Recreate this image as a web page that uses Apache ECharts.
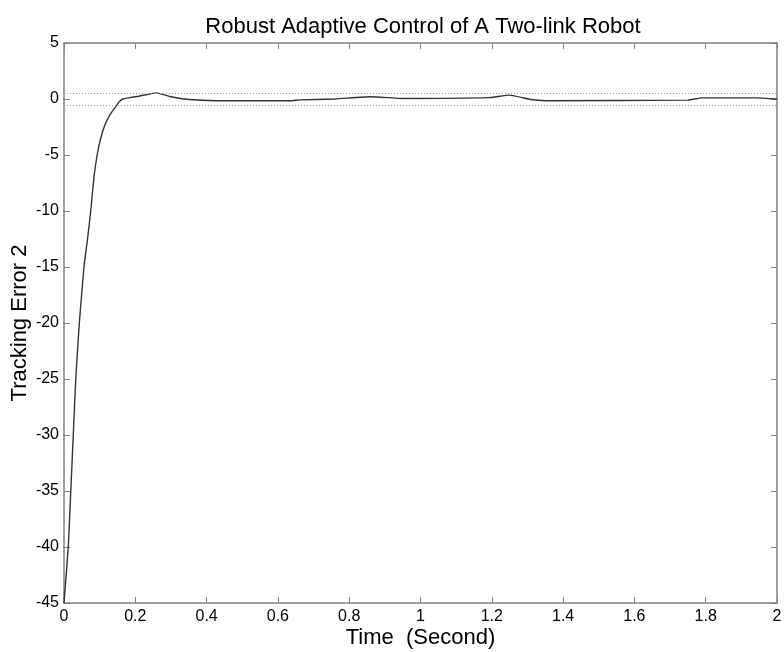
<!DOCTYPE html>
<html>
<head>
<meta charset="utf-8">
<script src="https://cdn.jsdelivr.net/npm/echarts@6/dist/echarts.min.js"></script>
<style>
html,body{margin:0;padding:0;background:#fff;}
#chart{width:784px;height:652px;}
</style>
</head>
<body>
<div id="chart"></div>
<script>
// time (s) and tracking error values
var timeData = [0, 0.012, 0.019, 0.026, 0.033, 0.043, 0.056, 0.066, 0.075, 0.084, 0.093, 0.103, 0.115, 0.129, 0.140, 0.148, 0.155, 0.165, 0.180, 0.210, 0.260, 0.300, 0.350, 0.430, 0.640, 0.660, 0.760, 0.860, 0.950, 1.190, 1.250, 1.310, 1.350, 1.750, 1.790, 1.940, 2.000];
var errorData = [-45, -40, -35, -30, -25, -20, -15, -12.5, -10, -7, -5, -3.5, -2.3, -1.4, -0.9, -0.55, -0.25, 0, 0.1, 0.25, 0.55, 0.2, -0.05, -0.15, -0.15, -0.08, 0, 0.2, 0.05, 0.12, 0.35, -0.05, -0.15, -0.1, 0.1, 0.1, 0];
var boundLines = [0.55, -0.55];
var xTicks = [0, 0.2, 0.4, 0.6, 0.8, 1, 1.2, 1.4, 1.6, 1.8, 2];
var yTicks = [-45, -40, -35, -30, -25, -20, -15, -10, -5, 0, 5];

var font = 'Liberation Sans, Arial, sans-serif';
var axisColor = '#808080';

var seriesData = [];
for (var i = 0; i < timeData.length; i++) {
	seriesData.push([timeData[i], errorData[i]]);
}

function axisBase(type, pos, show) {
	return {
		type: 'value',
		position: pos,
		min: type == 'x' ? xTicks[0] : yTicks[0],
		max: type == 'x' ? xTicks[xTicks.length - 1] : yTicks[yTicks.length - 1],
		interval: type == 'x' ? 0.2 : 5,
		axisLine: { show: true, onZero: false, lineStyle: { color: axisColor, width: 1.5 } },
		axisTick: { show: true, inside: true, length: 6, lineStyle: { color: axisColor } },
		splitLine: { show: false },
		axisLabel: {
			show: show,
			color: '#000',
			fontFamily: font,
			fontSize: 16,
			margin: type == 'x' ? 6 : 5
		}
	};
}

var xBottom = axisBase('x', 'bottom', true);
xBottom.name = 'Time  (Second)';
xBottom.nameLocation = 'middle';
xBottom.nameGap = 24;
xBottom.nameMoveOverlap = false;
xBottom.nameTextStyle = { color: '#000', fontFamily: font, fontSize: 22 };
var xTop = axisBase('x', 'top', false);

var yLeft = axisBase('y', 'left', true);
yLeft.name = 'Tracking Error 2';
yLeft.nameLocation = 'middle';
yLeft.nameGap = 33;
yLeft.nameMoveOverlap = false;
yLeft.nameTextStyle = { color: '#000', fontFamily: font, fontSize: 22 };
var yRight = axisBase('y', 'right', false);

var myChart = echarts.init(document.getElementById('chart'));
myChart.setOption({
	backgroundColor: '#fff',
	animation: false,
	title: {
		text: 'Robust Adaptive Control of A Two-link Robot',
		left: 418,
		textAlign: 'center',
		top: 11,
		textStyle: { color: '#000', fontFamily: font, fontSize: 22, fontWeight: 'normal' }
	},
	grid: { left: 64, right: 7, top: 43, bottom: 49, containLabel: false, outerBoundsMode: 'none' },
	xAxis: [xBottom, xTop],
	yAxis: [yLeft, yRight],
	series: [
		{
			type: 'line',
			data: seriesData,
			showSymbol: false,
			smooth: 0.15,
			lineStyle: { color: '#333', width: 1.4 },
			markLine: {
				silent: true,
				symbol: 'none',
				label: { show: false },
				lineStyle: { color: '#999', type: [1, 2], width: 1 },
				data: boundLines.map(function (v) { return { yAxis: v }; })
			}
		}
	]
});
</script>
</body>
</html>
